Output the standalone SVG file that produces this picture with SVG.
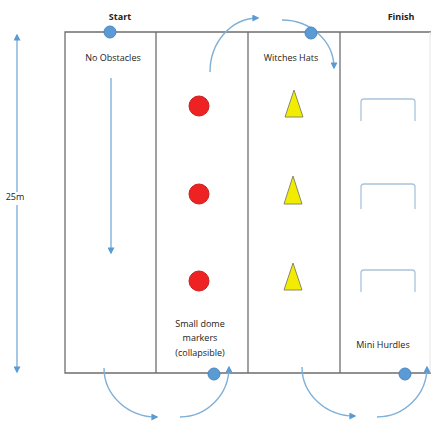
<svg xmlns="http://www.w3.org/2000/svg" width="431" height="421" viewBox="0 0 431 421">
<defs>
<style>
.lane{fill:none;stroke:#6e6e6e;stroke-width:1.3}
.t{font-family:"Open Sans","Liberation Sans",sans-serif;font-size:9px;fill:#222;text-anchor:middle}
.b{font-weight:bold}
.arc{fill:none;stroke:#7fb0d8;stroke-width:1.4}
.dot{fill:#5b9bd5;stroke:#4a86bf;stroke-width:1}
.dome{fill:#ee2222;stroke:#c82020;stroke-width:1}
.hat{fill:#f2ec00;stroke:#8a8a6a;stroke-width:1}
.hurdle{fill:none;stroke:#a9c4dc;stroke-width:1.3}
</style>
<marker id="ah" viewBox="0 0 10 10" refX="8" refY="5" markerWidth="7" markerHeight="7" markerUnits="userSpaceOnUse" orient="auto">
<path d="M0,0 L10,5 L0,10 z" fill="#5b9bd5"/>
</marker>
</defs>
<g id="field">
<path class="lane" d="M431,32 H65 V373 H431"/>
<line class="lane" x1="156" y1="32" x2="156" y2="373"/>
<line class="lane" x1="248" y1="32" x2="248" y2="373"/>
<line class="lane" x1="340" y1="32" x2="340" y2="373"/>
<line x1="430" y1="32" x2="430" y2="373" stroke="#e4e4e4" stroke-width="1"/>
</g>
<g id="labels">
<text class="t b" x="120" y="20">Start</text>
<text class="t b" x="401" y="20">Finish</text>
<text class="t" x="113" y="61">No Obstacles</text>
<text class="t" x="291" y="61">Witches Hats</text>
<text class="t" x="200" y="327">Small dome</text>
<text class="t" x="200" y="341">markers</text>
<text class="t" x="200" y="356">(collapsible)</text>
<text class="t" x="383" y="348">Mini Hurdles</text>
<text class="t" x="15" y="200">25m</text>
</g>
<g id="domes">
<circle class="dome" cx="199" cy="106" r="10"/>
<circle class="dome" cx="199" cy="194" r="10"/>
<circle class="dome" cx="199" cy="281" r="10"/>
</g>
<g id="hats">
<polygon class="hat" points="294,90 303,117 285,117"/>
<polygon class="hat" points="293,176 302,204 284,204"/>
<polygon class="hat" points="293,263 302,290 284,290"/>
</g>
<g id="hurdles">
<path class="hurdle" d="M361,121 V102 Q361,99 364,99 H412 Q415,99 415,102 V121"/>
<path class="hurdle" d="M361,209 V187 Q361,184 364,184 H412 Q415,184 415,187 V209"/>
<path class="hurdle" d="M361,292 V273 Q361,270 364,270 H412 Q415,270 415,273 V292"/>
</g>
<g id="connectors">
<line class="arc" x1="17" y1="192" x2="17" y2="35" marker-end="url(#ah)"/>
<line class="arc" x1="17" y1="205" x2="17" y2="372" marker-end="url(#ah)"/>
<line class="arc" x1="111" y1="78" x2="111" y2="253" marker-end="url(#ah)"/>
<path class="arc" d="M210,72 A48,54 0 0 1 258,18" marker-end="url(#ah)"/>
<path class="arc" d="M282,20 A52,48 0 0 1 334,68" marker-end="url(#ah)"/>
<path class="arc" d="M104,368 A53,49 0 0 0 157,417" marker-end="url(#ah)"/>
<path class="arc" d="M180,417 A49,50 0 0 0 229,367" marker-end="url(#ah)"/>
<path class="arc" d="M302,367 A53,49 0 0 0 355,416" marker-end="url(#ah)"/>
<path class="arc" d="M377,417 A50,50 0 0 0 427,367" marker-end="url(#ah)"/>
</g>
<g id="markers">
<circle class="dot" cx="110" cy="32" r="6"/>
<circle class="dot" cx="311" cy="33" r="6"/>
<circle class="dot" cx="214" cy="374" r="6"/>
<circle class="dot" cx="405" cy="374" r="6"/>
</g>
</svg>
